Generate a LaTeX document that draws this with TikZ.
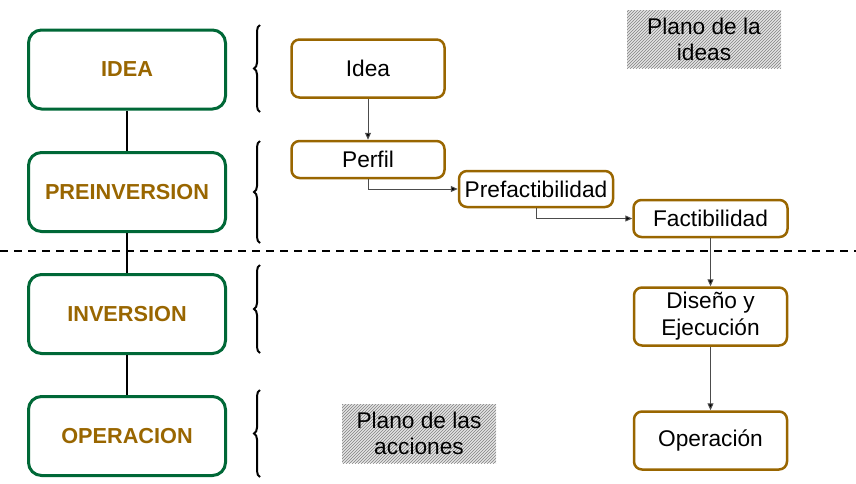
\documentclass[tikz,border=0pt]{standalone}
\usepackage{fontspec}
\setmainfont{Liberation Sans}
\usetikzlibrary{decorations.pathreplacing,patterns,arrows.meta}
\definecolor{stgreen}{RGB}{0,104,55}
\definecolor{stbrown}{RGB}{153,102,0}
\definecolor{hatchgray}{RGB}{130,130,130}
\begin{document}
\begin{tikzpicture}[x=1pt,y=-1pt,
  stage/.style={draw=stgreen,line width=3pt,rounded corners=13pt,fill=white,
    minimum width=197pt,minimum height=79pt,inner sep=0pt,
    font=\fontsize{21.7}{24}\selectfont\bfseries,text=stbrown},
  phase/.style={draw=stbrown,line width=2.5pt,rounded corners=8pt,fill=white,
    inner sep=0pt,font=\fontsize{22.7}{27}\selectfont,align=center},
  plane/.style={preaction={fill=gray!22},pattern={north east lines},pattern color=hatchgray,
    inner sep=0pt,font=\fontsize{22.7}{26}\selectfont,align=center},
  link/.style={line width=2pt,black},
  flow/.style={draw=black!70,line width=1pt,-{Triangle[length=7pt,width=6pt,fill=black]}},
  stbrace/.style={decorate,decoration={brace,amplitude=6pt},line width=2pt}
]
\useasboundingbox (0,0) rectangle (856,483);
% planes
\node[plane,minimum width=154pt,minimum height=58pt] (pideas) at (704,39) {Plano de la\\ideas};
\node[plane,minimum width=154pt,minimum height=59pt] (pacc) at (419,433.5) {Plano de las\\acciones};
% stages
\node[stage] (s1) at (127,69.5) {IDEA};
\node[stage] (s2) at (127,192) {PREINVERSION};
\node[stage] (s3) at (127,314) {INVERSION};
\node[stage] (s4) at (127,436) {OPERACION};
\draw[link] (s1.south) -- (s2.north);
\draw[link] (s2.south) -- (s3.north);
\draw[link] (s3.south) -- (s4.north);
% dashed separator
\coordinate (dl) at (0,251);
\coordinate (dr) at (856,251);
\draw[line width=1.5pt,dash pattern=on 8pt off 6pt] (dl) -- (dr);
% braces
\coordinate (b1a) at (260,112); \coordinate (b1b) at (260,25);
\coordinate (b2a) at (260,243); \coordinate (b2b) at (260,141);
\coordinate (b3a) at (260,353); \coordinate (b3b) at (260,265);
\coordinate (b4a) at (260,477); \coordinate (b4b) at (260,390);
\draw[stbrace] (b1a) -- (b1b);
\draw[stbrace] (b2a) -- (b2b);
\draw[stbrace] (b3a) -- (b3b);
\draw[stbrace] (b4a) -- (b4b);
% phases
\node[phase,minimum width=153pt,minimum height=58pt] (idea) at (368,68.5) {Idea};
\node[phase,minimum width=153pt,minimum height=37pt] (perfil) at (368,159.5) {Perfil};
\node[phase,minimum width=154pt,minimum height=36pt] (pref) at (536,189) {Prefactibilidad};
\node[phase,minimum width=154pt,minimum height=37pt] (fact) at (710.5,218.5) {Factibilidad};
\node[phase,minimum width=153pt,minimum height=58pt] (dis) at (710.5,316.5) {Diseño y\\Ejecución};
\node[phase,minimum width=153pt,minimum height=58pt] (oper) at (710.5,440.5) {Operación};
\draw[flow] (idea.south) -- (perfil.north);
\draw[flow] (perfil.south) |- (pref.west);
\draw[flow] (pref.south) |- (fact.west);
\draw[flow] (fact.south) -- (dis.north);
\draw[flow] (dis.south) -- (oper.north);
\end{tikzpicture}
\end{document}
